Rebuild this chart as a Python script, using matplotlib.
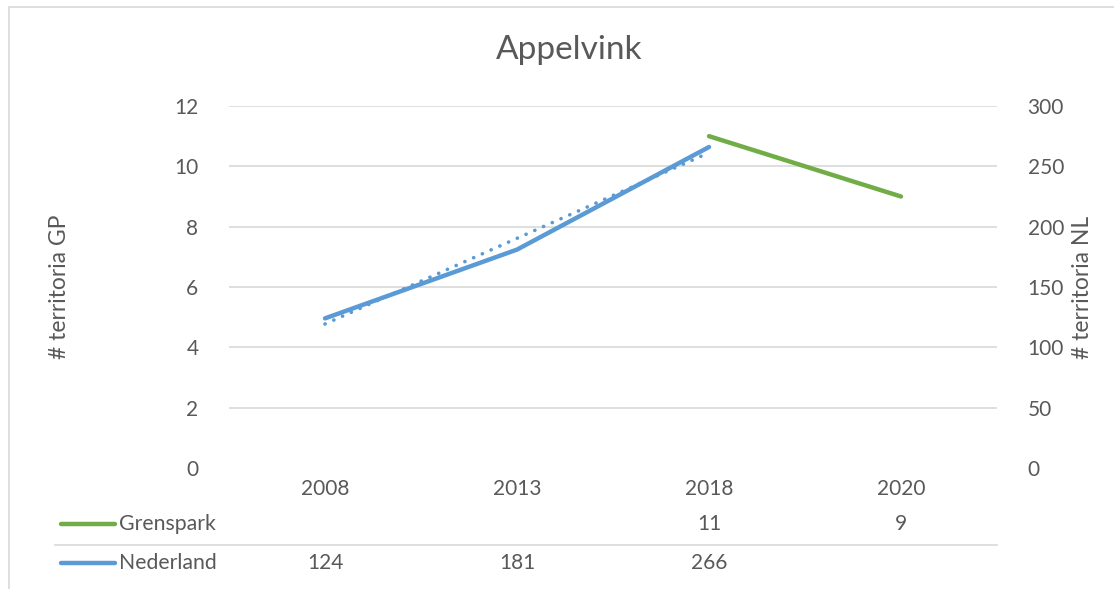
import numpy as np
import matplotlib
matplotlib.use("Agg")
import matplotlib.pyplot as plt
from matplotlib.patches import Rectangle
from matplotlib.lines import Line2D
import matplotlib.transforms as mtransforms

# ── Data ───────────────────────────────────────────────────────────────────
years = ["2008", "2013", "2018", "2020"]
grenspark = [None, None, 11, 9]          # left axis (GP)
nederland = [124, 181, 266, None]        # right axis (NL)

GREEN = "#70AD47"
BLUE = "#5B9BD5"
GRID = "#D9D9D9"
TXT = "#595959"
FS = 15

plt.rcParams["font.family"] = ["Lato", "DejaVu Sans"]

W, H = 1114, 589
fig = plt.figure(figsize=(W / 100, H / 100), dpi=100)

# plot area in pixels
x0, x1 = 229, 997
y_top, y_bot = 106, 468
ax = fig.add_axes([x0 / W, 1 - y_bot / H, (x1 - x0) / W, (y_bot - y_top) / H])
ax2 = ax.twinx()

ax.set_xlim(-0.5, len(years) - 0.5)
ax.set_ylim(0, 12)
ax2.set_ylim(0, 300)
ax.set_yticks(range(0, 13, 2))
ax2.set_yticks(range(0, 301, 50))
ax.set_xticks([])

for a in (ax, ax2):
    for s in a.spines.values():
        s.set_visible(False)
    a.tick_params(length=0, labelsize=FS, colors=TXT)
    a.set_facecolor("none")
ax.tick_params(axis="y", pad=22)
ax2.tick_params(axis="y", pad=22)

# gridlines (no line at 0)
for v in range(2, 13, 2):
    ax.axhline(v, color=GRID, lw=1.2, zorder=0)

# Grenspark on left axis
gx = [i for i, v in enumerate(grenspark) if v is not None]
gy = [v for v in grenspark if v is not None]
ax.plot(gx, gy, color=GREEN, lw=3.2, solid_capstyle="round", zorder=3)

# Nederland on right axis + linear trendline
nx = np.array([i for i, v in enumerate(nederland) if v is not None])
ny = np.array([v for v in nederland if v is not None])
ax2.plot(nx, ny, color=BLUE, lw=3.2, solid_capstyle="round",
         solid_joinstyle="round", zorder=3)
coef = np.polyfit(nx, ny, 1)
ax2.plot(nx, np.polyval(coef, nx), color=BLUE, lw=2.6,
         linestyle=(0, (0.05, 2.6)), dash_capstyle="round", zorder=3)

ax.set_ylabel("# territoria GP", fontsize=16.5, color=TXT, labelpad=0)
ax.yaxis.set_label_coords((70 - x0) / (x1 - x0), 0.5)
ax2.set_ylabel("# territoria NL", fontsize=16.5, color=TXT, rotation=90)
ax2.yaxis.set_label_coords((1072 - x0) / (x1 - x0), 0.5)

fig.text(569 / W, 1 - 50 / H, "Appelvink", ha="center", va="center",
         fontsize=24, color=TXT)

# ── Data table below the plot ─────────────────────────────────────────────
def row_y(py):
    return 1 - py / H

trans = mtransforms.blended_transform_factory(ax.transData, fig.transFigure)
for i, yr in enumerate(years):
    fig.text(0, row_y(489), yr, transform=trans, ha="center", va="center",
             fontsize=FS, color=TXT).set_x(i)
    if grenspark[i] is not None:
        fig.text(0, row_y(524), str(grenspark[i]), transform=trans,
                 ha="center", va="center", fontsize=FS, color=TXT).set_x(i)
    if nederland[i] is not None:
        fig.text(0, row_y(563), str(nederland[i]), transform=trans,
                 ha="center", va="center", fontsize=FS, color=TXT).set_x(i)

for py, col, name in [(524, GREEN, "Grenspark"), (563, BLUE, "Nederland")]:
    fig.add_artist(Line2D([61 / W, 115 / W], [row_y(py), row_y(py)],
                          color=col, lw=3.2, solid_capstyle="round"))
    fig.text(119 / W, row_y(py), name, ha="left", va="center",
             fontsize=FS + 0.3, color=TXT)

fig.add_artist(Line2D([55 / W, x1 / W], [row_y(545), row_y(545)],
                      color=GRID, lw=1.2))

# chart border (left and top visible)
fig.add_artist(Rectangle((9 / W, -0.1), 1.2, 1 - 7 / H + 0.1,
                         transform=fig.transFigure, fill=False,
                         edgecolor=GRID, lw=1.2))

fig.savefig("out.png", dpi=100)
